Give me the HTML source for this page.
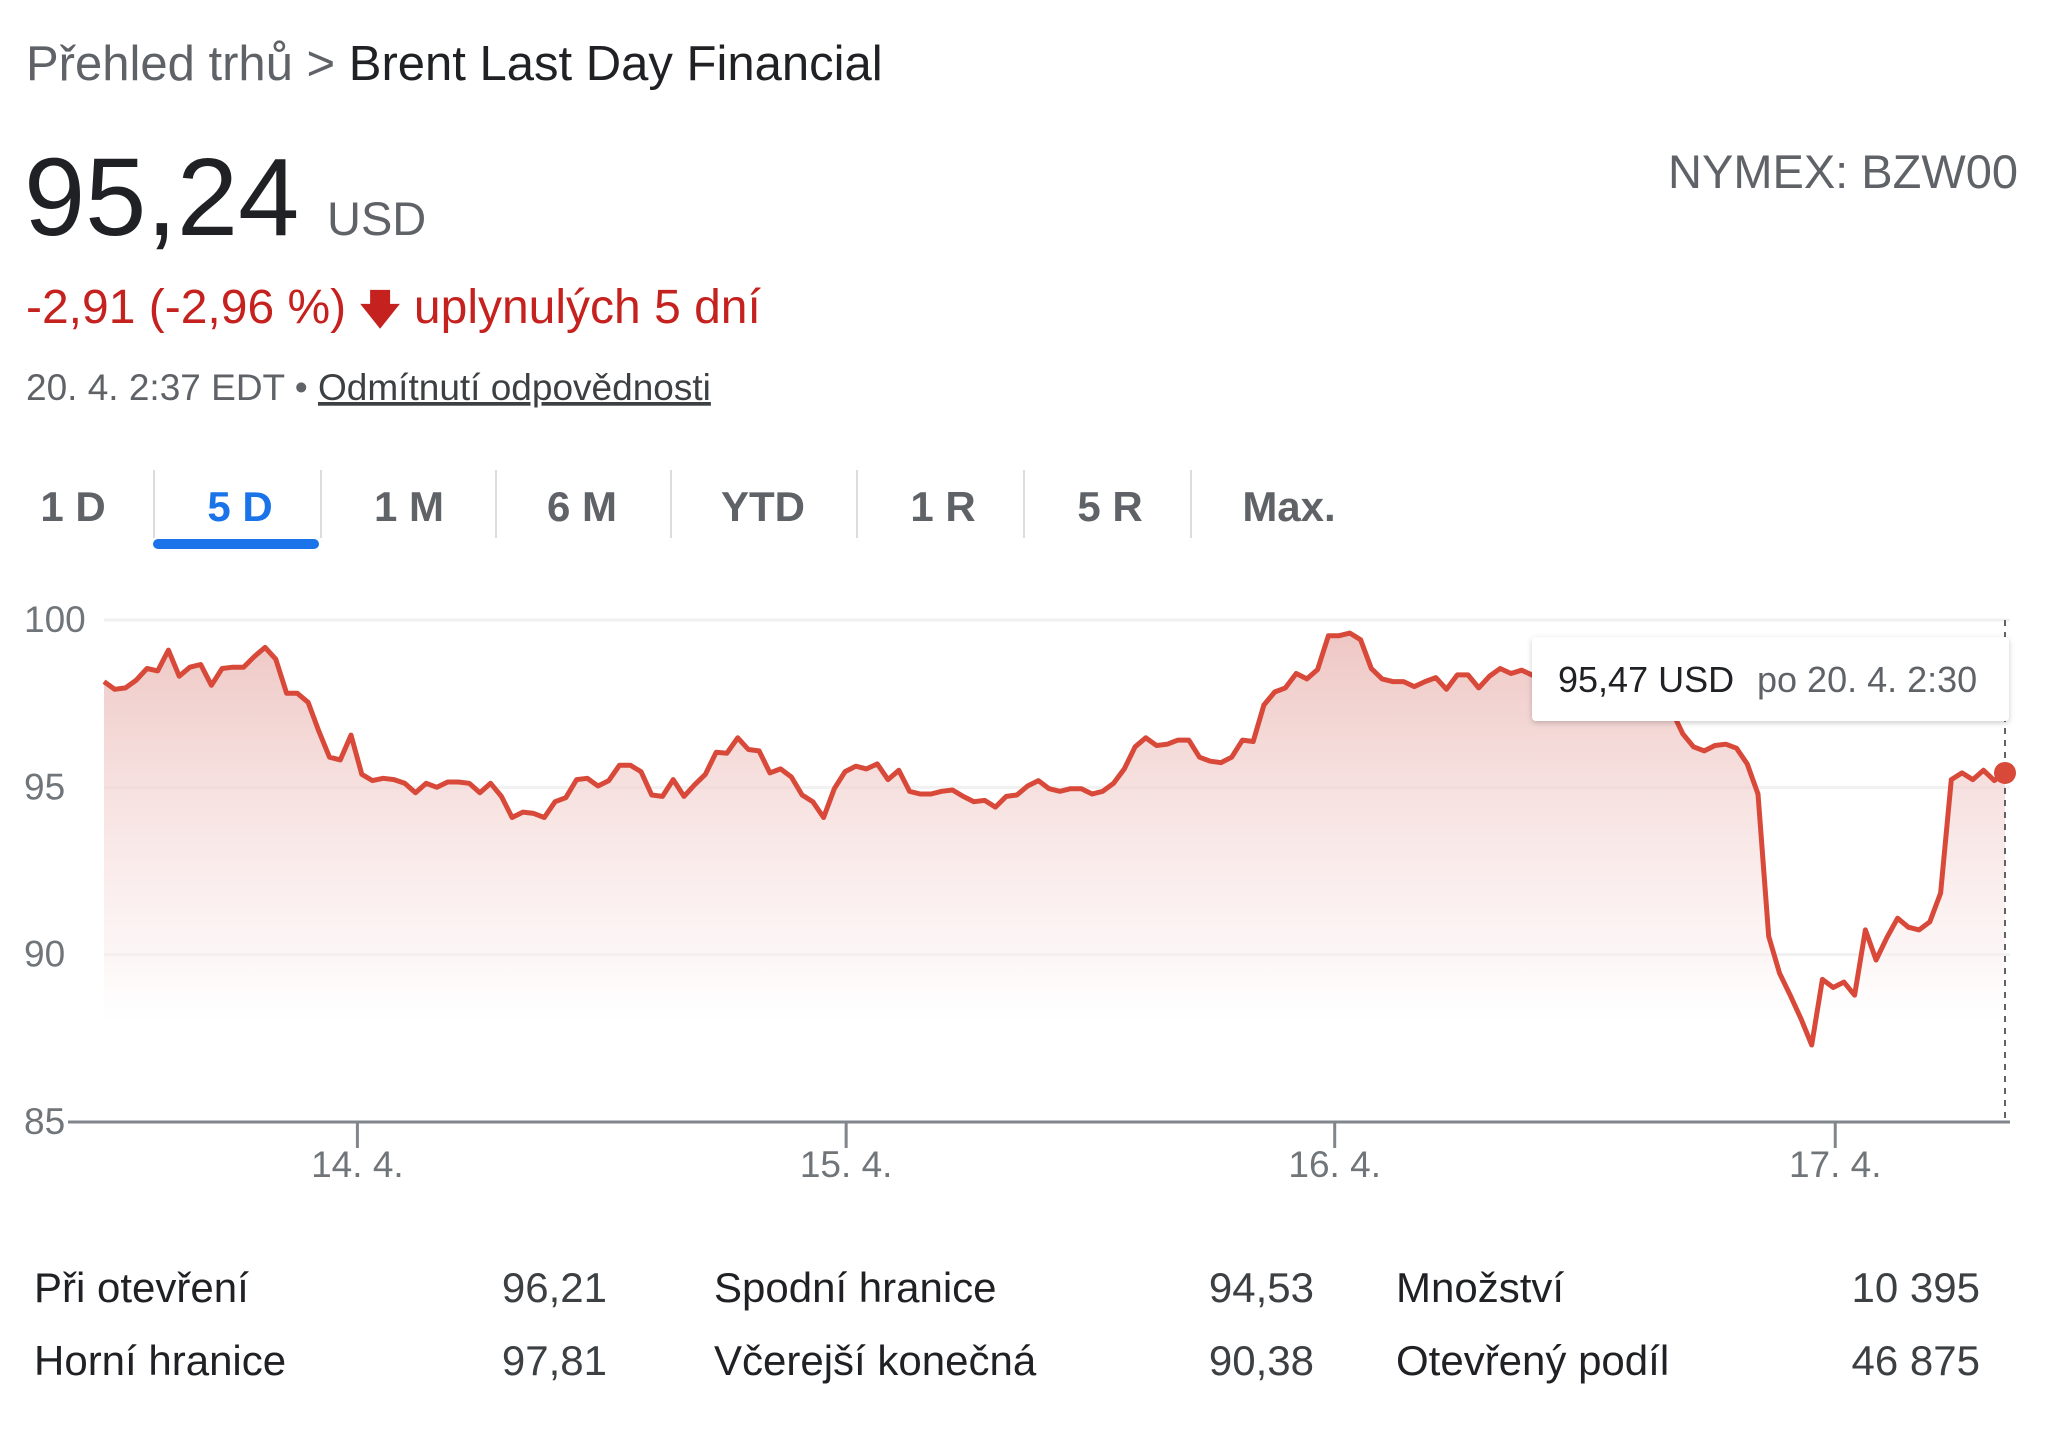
<!DOCTYPE html>
<html><head><meta charset="utf-8">
<style>
html,body{margin:0;padding:0;background:#fff;width:2048px;height:1454px;overflow:hidden;font-family:"Liberation Sans",sans-serif;}
svg{position:absolute;left:0;top:0;}
</style></head>
<body>
<svg id="root" width="2048" height="1454" viewBox="0 0 2048 1454">
<defs>
<linearGradient id="fillGrad" x1="0" y1="0" x2="0" y2="1">
<stop offset="0" stop-color="#e8b4b0" stop-opacity="0.75"/>
<stop offset="0.8" stop-color="#fbeeee" stop-opacity="0.5"/>
<stop offset="1" stop-color="#ffffff" stop-opacity="0"/>
</linearGradient>
<filter id="shadow" x="-10%" y="-20%" width="120%" height="150%"><feDropShadow dx="0" dy="2" stdDeviation="3" flood-color="#000" flood-opacity="0.2"/></filter>
</defs>
<text x="26" y="80" font-size="49" fill="#5f6368">Přehled trhů &gt; <tspan fill="#202124">Brent Last Day Financial</tspan></text>
<text x="24" y="235" font-size="110" fill="#202124">95,24</text>
<text x="327" y="235" font-size="47" fill="#5f6368">USD</text>
<text x="2018" y="188" font-size="47" fill="#5f6368" text-anchor="end">NYMEX: BZW00</text>
<text x="26" y="323" font-size="48" fill="#c5221f">-2,91 (-2,96 %) <tspan font-weight="bold" font-size="40" font-family="DejaVu Sans">🡇</tspan> uplynulých 5 dní</text>
<text x="26" y="400" font-size="37" fill="#5f6368">20. 4. 2:37 EDT • <tspan text-decoration="underline" fill="#3c4043">Odmítnutí odpovědnosti</tspan></text>
<g id="tabs" font-size="42" font-weight="bold" fill="#5f6368" text-anchor="middle"></g>
<g id="chart"></g>
<g id="stats" font-size="42" fill="#202124"></g>
</svg>
<script>
const NS="http://www.w3.org/2000/svg";
function mk(tag,attrs,parent){const e=document.createElementNS(NS,tag);for(const k in attrs)e.setAttribute(k,attrs[k]);parent.appendChild(e);return e;}

const tabLabels=["1 D","5 D","1 M","6 M","YTD","1 R","5 R","Max."];
const tabCenters=[73,240,409,582,763,943,1110,1289];
const sepXs=[154,321,496,671,857,1024,1191];
const tabs=document.getElementById('tabs');
tabLabels.forEach((l,i)=>{
  const t=mk('text',{x:tabCenters[i],y:521},tabs);
  
  
  t.textContent=l;
  if(i===1)t.setAttribute('fill','#1a73e8');
});
sepXs.forEach(x=>{
  const s=mk('line',{x1:x,x2:x,y1:470,y2:538,stroke:'#dadce0','stroke-width':2},tabs);
  
  
});
const ul=mk('rect',{x:153,y:539,width:166,height:10,rx:5,fill:'#1a73e8'},tabs);



const prices=[98.16,97.93,97.97,98.20,98.55,98.48,99.10,98.32,98.59,98.67,98.05,98.55,98.59,98.59,98.91,99.18,98.83,97.81,97.81,97.54,96.68,95.90,95.82,96.56,95.39,95.20,95.27,95.23,95.12,94.84,95.12,95.00,95.16,95.16,95.12,94.84,95.12,94.73,94.10,94.26,94.22,94.10,94.57,94.69,95.23,95.27,95.04,95.20,95.66,95.66,95.47,94.77,94.73,95.23,94.73,95.08,95.39,96.05,96.02,96.48,96.13,96.09,95.43,95.55,95.31,94.77,94.57,94.10,94.96,95.47,95.63,95.55,95.70,95.23,95.51,94.88,94.80,94.80,94.88,94.92,94.73,94.57,94.61,94.41,94.73,94.77,95.04,95.20,94.96,94.88,94.96,94.96,94.80,94.88,95.12,95.55,96.21,96.48,96.25,96.29,96.41,96.41,95.90,95.78,95.74,95.90,96.41,96.37,97.46,97.85,97.97,98.40,98.24,98.52,99.53,99.53,99.61,99.41,98.55,98.24,98.16,98.16,98.01,98.16,98.28,97.93,98.36,98.36,97.97,98.32,98.55,98.40,98.50,98.35,98.30,98.45,98.30,98.20,98.25,98.10,98.00,98.05,97.90,97.70,97.60,97.40,97.27,96.60,96.21,96.09,96.25,96.29,96.17,95.70,94.80,90.55,89.45,88.79,88.09,87.30,89.26,89.02,89.18,88.79,90.74,89.84,90.51,91.09,90.82,90.74,90.98,91.84,95.23,95.43,95.23,95.51,95.20,95.43];
const yTicks=[100,95,90,85];
const dayLabels=["14. 4.","15. 4.","16. 4.","17. 4."];
const dayTickFraction=[0.1333,0.3904,0.6474,0.9107];
const tooltipValue="95,47 USD";
const tooltipDate="po 20. 4. 2:30";

const X0=104,X1=2005,Y0=620,Y1=1122,VMAX=100,VMIN=85;
const xs=i=>X0+(X1-X0)*i/(prices.length-1);
const xf=f=>X0+(X1-X0)*f;
const ys=v=>Y0+(VMAX-v)/(VMAX-VMIN)*(Y1-Y0);
const chart=document.getElementById('chart');

yTicks.forEach(v=>{
  if(v!==85){const g=mk('line',{x1:X0,x2:2010,y1:ys(v),y2:ys(v),stroke:'#f1f1f1','stroke-width':3},chart);
  
  }
  const t=mk('text',{x:24,y:ys(v)+12,'font-size':37,fill:'#70757a'},chart);
  
  
  t.textContent=v;
});

let d='';prices.forEach((v,i)=>{d+=(i?'L':'M')+xs(i).toFixed(1)+' '+ys(v).toFixed(1);});
const area=mk('path',{d:d+'L'+xs(prices.length-1)+' '+ys(88)+'L'+X0+' '+ys(88)+'Z',fill:'url(#fillGrad)'},chart);



const ax=mk('line',{x1:68,x2:2010,y1:Y1,y2:Y1,stroke:'#80868b','stroke-width':3},chart);


dayLabels.forEach((l,k)=>{
  const x=xf(dayTickFraction[k]);
  const tk=mk('line',{x1:x,x2:x,y1:Y1,y2:Y1+26,stroke:'#80868b','stroke-width':3},chart);
  
  
  const t=mk('text',{x:x,y:1177,'font-size':37,fill:'#70757a','text-anchor':'middle'},chart);
  
  
  t.textContent=l;
});

const line=mk('path',{d:d,fill:'none',stroke:'#d8493a','stroke-width':5,'stroke-linejoin':'round'},chart);



const cur=mk('line',{x1:X1,x2:X1,y1:Y0,y2:Y1,stroke:'#5f6368','stroke-width':2,'stroke-dasharray':'6 6'},chart);


const dot=mk('circle',{cx:xs(prices.length-1),cy:ys(prices[prices.length-1]),r:11,fill:'#d8493a'},chart);



const tip=mk('g',{},chart);


mk('rect',{x:1532,y:637,width:477,height:84,rx:4,fill:'#fff',filter:'url(#shadow)'},tip);
const tv=mk('text',{x:1558,y:692,'font-size':36,fill:'#202124'},tip);


tv.textContent=tooltipValue;
const td=mk('text',{x:1757,y:692,'font-size':36,fill:'#5f6368'},tip);


td.textContent=tooltipDate;

const statLabels=["Při otevření","Horní hranice","Spodní hranice","Včerejší konečná","Množství","Otevřený podíl"];
const statValues=["96,21","97,81","94,53","90,38","10 395","46 875"];
const colLX=[34,714,1396],colVX=[607,1314,1980],rowY=[1302,1375];
const stats=document.getElementById('stats');
statLabels.forEach((l,i)=>{
  const c=Math.floor(i/2),r=i%2;
  const a=mk('text',{x:colLX[c],y:rowY[r]},stats);
  
  
  a.textContent=l;
  const b=mk('text',{x:colVX[c],y:rowY[r],'text-anchor':'end',fill:'#3c4043'},stats);
  
  
  b.textContent=statValues[i];
});
</script>
</body></html>
